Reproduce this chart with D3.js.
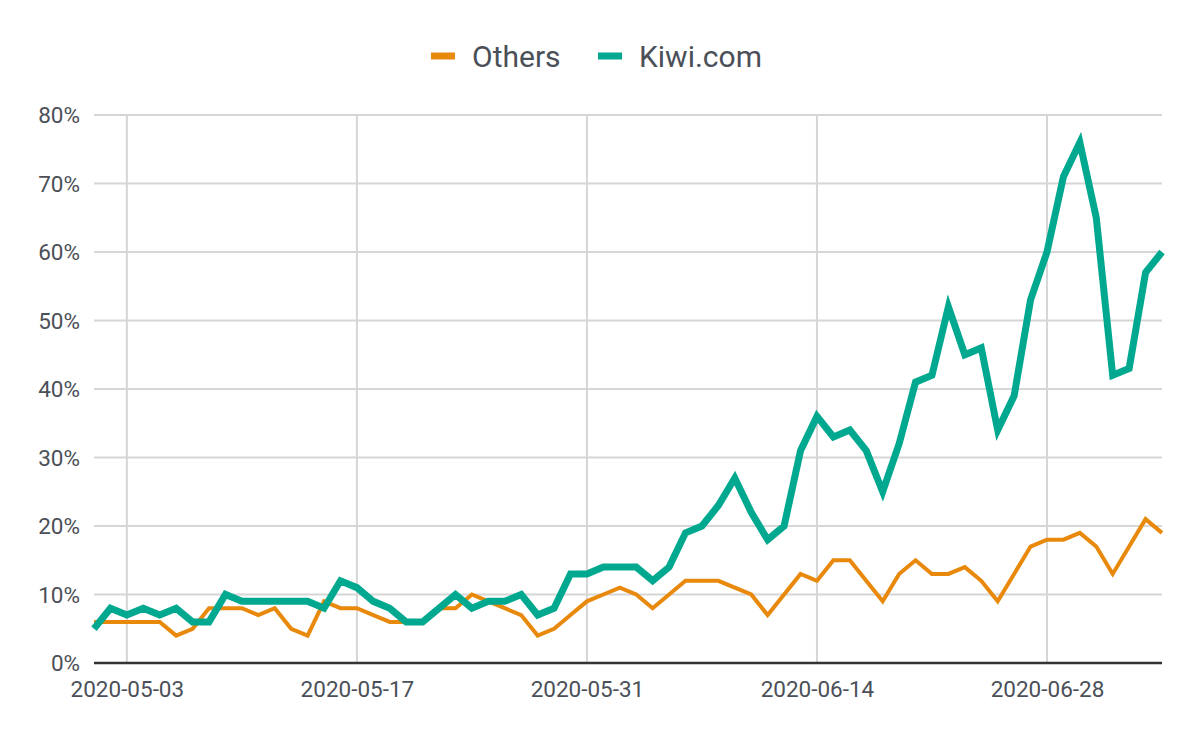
<!DOCTYPE html>
<html>
<head>
<meta charset="utf-8">
<script src="https://cdn.jsdelivr.net/npm/d3@7"></script>
<style>
  body { margin: 0; background: #fff; }
  svg text { font-family: Roboto, "Noto Sans", sans-serif; fill: #4b5058; }
</style>
</head>
<body>
<svg id="chart"></svg>
<script>
// daily share, 2020-05-01 .. 2020-07-05
var startDay = "2020-05-01"
var endDay = "2020-07-05"
var seriesNames = ["Others", "Kiwi.com"]
var othersValues = [6,6,6,6,6,4,5,8,8,8,7,8,5,4,9,8,8,7,6,6,
                    6,8,8,10,9,8,7,4,5,7,9,10,11,10,8,10,12,12,12,11,
                    10,7,10,13,12,15,15,12,9,13,15,13,13,14,12,9,13,17,18,18,
                    19,17,13,17,21,19]
var kiwiValues = [5,8,7,8,7,8,6,6,10,9,9,9,9,9,8,12,11,9,8,6,
                  6,8,10,8,9,9,10,7,8,13,13,14,14,14,12,14,19,20,23,27,
                  22,18,20,31,36,33,34,31,25,32,41,42,52,45,46,34,39,53,60,71,
                  76,65,42,43,57,60]
var xTickLabels = ["2020-05-03","2020-05-17","2020-05-31","2020-06-14","2020-06-28"]
var yTickValues = [0,10,20,30,40,50,60,70,80]

var screen = {width: 1200, height: 742}
var margins = {top: 115, right: 38, bottom: 79, left: 94}
var colors = {"Others": "#e8890c", "Kiwi.com": "#00a88f"}
var widths = {"Others": 4, "Kiwi.com": 7}

var parseDay = d3.utcParse("%Y-%m-%d")
var days = d3.utcDay.range(parseDay(startDay), d3.utcDay.offset(parseDay(endDay), 1))

var width = screen.width - margins.left - margins.right
var height = screen.height - margins.top - margins.bottom

var svg = d3.select("#chart")
    .attr("width", screen.width)
    .attr("height", screen.height)

var xScale = d3.scaleUtc()
    .domain([days[0], days[days.length - 1]])
    .range([0, width])
var yScale = d3.scaleLinear()
    .domain([0, 80])
    .range([height, 0])

var graph = svg.append("g")
    .attr("transform", "translate(" + margins.left + "," + margins.top + ")")

// grid
graph.append("g").selectAll("line")
    .data(yTickValues.slice(1))
    .enter().append("line")
    .attr("x1", 0).attr("x2", width)
    .attr("y1", function(d){ return yScale(d) })
    .attr("y2", function(d){ return yScale(d) })
    .attr("stroke", "#d6d6d6").attr("stroke-width", 2)

graph.append("g").selectAll("line")
    .data(xTickLabels)
    .enter().append("line")
    .attr("x1", function(d){ return xScale(parseDay(d)) })
    .attr("x2", function(d){ return xScale(parseDay(d)) })
    .attr("y1", 0).attr("y2", height)
    .attr("stroke", "#d6d6d6").attr("stroke-width", 2)

// axes
var yAxis = d3.axisLeft(yScale)
    .tickValues(yTickValues)
    .tickSize(0).tickPadding(14)
    .tickFormat(function(d){ return d + "%" })
var gy = graph.append("g").call(yAxis)
gy.select(".domain").remove()
gy.selectAll("text").attr("font-size", 22.5).attr("dy", "0.35em")

var xAxis = d3.axisBottom(xScale)
    .tickValues(xTickLabels.map(parseDay))
    .tickSize(0).tickPadding(18)
    .tickFormat(d3.utcFormat("%Y-%m-%d"))
var gx = graph.append("g")
    .attr("transform", "translate(0," + height + ")")
    .call(xAxis)
gx.select(".domain").remove()
gx.selectAll("text").attr("font-size", 22.5)

// lines
var series = [
    {name: "Others", values: othersValues},
    {name: "Kiwi.com", values: kiwiValues}
]
var lineGenerator = d3.line()
    .x(function(v, i){ return xScale(days[i]) })
    .y(function(v){ return yScale(v) })

graph.append("g").selectAll("path")
    .data(series)
    .enter().append("path")
    .attr("fill", "none")
    .attr("stroke", function(s){ return colors[s.name] })
    .attr("stroke-width", function(s){ return widths[s.name] })
    .attr("stroke-linejoin", "miter")
    .attr("d", function(s){ return lineGenerator(s.values) })

graph.append("line")
    .attr("x1", 0).attr("x2", width)
    .attr("y1", height).attr("y2", height)
    .attr("stroke", "#333").attr("stroke-width", 2.5)

// legend
var legendX = [431, 598]
var legend = svg.append("g").selectAll("g")
    .data(seriesNames)
    .enter().append("g")
    .attr("transform", function(d, i){ return "translate(" + legendX[i] + ",56)" })
legend.append("rect")
    .attr("x", 0).attr("y", -3.5)
    .attr("width", 24).attr("height", 7)
    .attr("fill", function(d){ return colors[d] })
legend.append("text")
    .attr("x", 41).attr("dy", "0.35em")
    .attr("font-size", 30)
    .text(function(d){ return d })
</script>
</body>
</html>
